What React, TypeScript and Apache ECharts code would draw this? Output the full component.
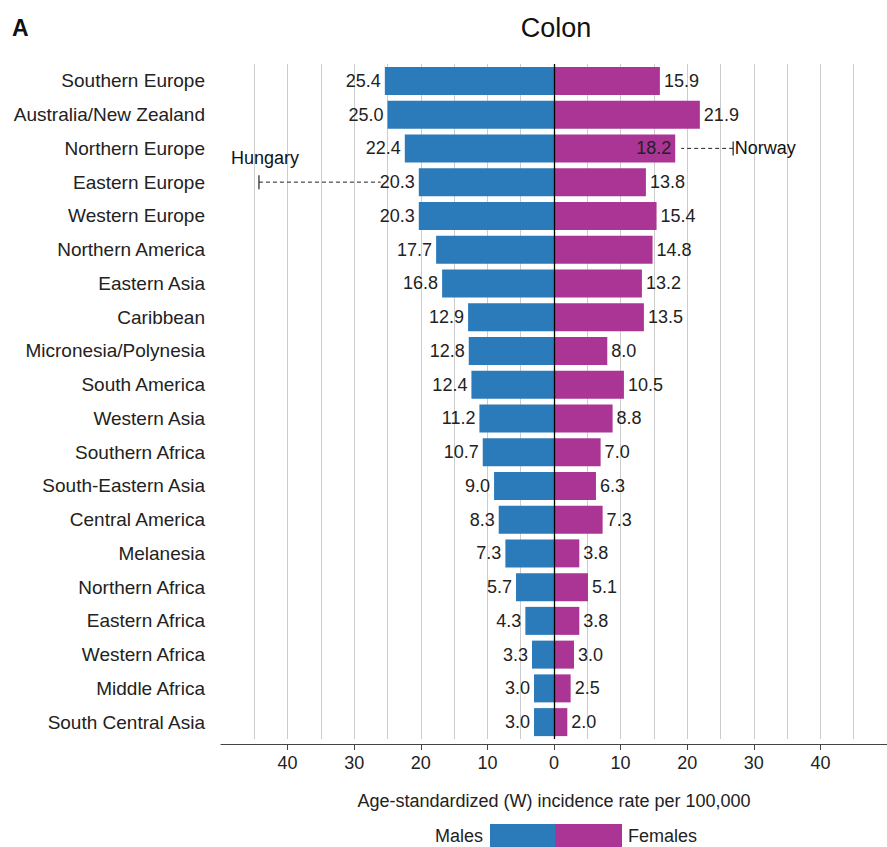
import React, { useEffect, useRef } from "react";
import * as echarts from "echarts";

const categories = [
  "Southern Europe", "Australia/New Zealand", "Northern Europe", "Eastern Europe",
  "Western Europe", "Northern America", "Eastern Asia", "Caribbean",
  "Micronesia/Polynesia", "South America", "Western Asia", "Southern Africa",
  "South-Eastern Asia", "Central America", "Melanesia", "Northern Africa",
  "Eastern Africa", "Western Africa", "Middle Africa", "South Central Asia",
];
const males = [25.4, 25.0, 22.4, 20.3, 20.3, 17.7, 16.8, 12.9, 12.8, 12.4, 11.2, 10.7, 9.0, 8.3, 7.3, 5.7, 4.3, 3.3, 3.0, 3.0];
const females = [15.9, 21.9, 18.2, 13.8, 15.4, 14.8, 13.2, 13.5, 8.0, 10.5, 8.8, 7.0, 6.3, 7.3, 3.8, 5.1, 3.8, 3.0, 2.5, 2.0];
const tickValues = [-40, -30, -20, -10, 0, 10, 20, 30, 40];
const gridValues = [-45, -40, -35, -30, -25, -20, -15, -10, -5, 5, 10, 15, 20, 25, 30, 35, 40, 45];

// Highest-country annotations
const maxCountries = ["Hungary", "Norway"];
const maxRegions = ["Eastern Europe", "Northern Europe"];
const maxValues = [-44.3, 26.9];
const maxLineStart = [-26.0, 19.1];

const BLUE = "#2B7BBA";
const PINK = "#AA3595";
const FONT = "'Liberation Sans', Arial, Helvetica, sans-serif";

export default function App() {
  const ref = useRef<HTMLDivElement>(null);
  useEffect(() => {
    if (!ref.current) return;
    const chart = echarts.init(ref.current, null, { renderer: "svg" });
    const fmt = (v: number) => Math.abs(v).toFixed(1);
    const option: any = {
      animation: false,
      textStyle: { fontFamily: FONT },
      grid: { left: 221, width: 670, top: 64, bottom: 108, containLabel: false },
      xAxis: {
        type: "value",
        min: -50,
        max: 50,
        interval: 10,
        offset: 5,
        name: "Age-standardized (W) incidence rate per 100,000",
        nameLocation: "middle",
        nameGap: 48,
        nameTextStyle: { fontSize: 18, color: "#222", fontFamily: FONT },
        axisLine: { show: true, lineStyle: { color: "#444", width: 1.2 } },
        axisTick: { show: true, length: 6, lineStyle: { color: "#444" }, customValues: tickValues },
        axisLabel: {
          fontSize: 18, color: "#222", margin: 10, fontFamily: FONT,
          customValues: tickValues,
          formatter: (v: number) => (Math.abs(v) >= 50 ? "" : String(Math.abs(v))),
        },
        splitLine: { show: false },
      },
      yAxis: {
        type: "category",
        data: categories,
        inverse: true,
        axisLine: { show: false },
        axisTick: { show: false },
        axisLabel: { fontSize: 19, color: "#222", margin: 16, fontFamily: FONT },
      },
      series: [
        {
          name: "Males",
          type: "bar",
          barWidth: 28,
          barGap: "-100%",
          data: males.map((v) => -v),
          itemStyle: { color: BLUE },
          label: {
            show: true, position: "left", distance: 4, fontSize: 18, color: "#222", fontFamily: FONT,
            formatter: (p: any) => fmt(p.value),
          },
          markLine: {
            silent: true,
            symbol: ["none", "none"],
            label: { show: false },
            z: 1,
            data: [
              ...gridValues.map((v) => ({ xAxis: v, lineStyle: { color: "#cccccc", width: 1, type: "solid" } })),
            ],
          },
          z: 3,
        },
        {
          name: "Females",
          type: "bar",
          barWidth: 28,
          data: females.map((v, i) =>
            categories[i] === "Northern Europe"
              ? { value: v, label: { position: "insideRight", distance: 4 } }
              : v
          ),
          itemStyle: { color: PINK },
          label: {
            show: true, position: "right", distance: 4, fontSize: 18, color: "#222", fontFamily: FONT,
            formatter: (p: any) => fmt(p.value),
          },
          markLine: {
            silent: true,
            symbol: ["none", "none"],
            label: { show: false },
            z: 5,
            data: [{ xAxis: 0, lineStyle: { color: "#000", width: 1.3, type: "solid" } }],
          },
          z: 3,
        },
        ...maxCountries.map((c, i) => ({
          type: "line",
          data: [[maxValues[i], maxRegions[i]], [maxLineStart[i], maxRegions[i]]],
          symbol: "none",
          lineStyle: { color: "#222", width: 1, type: [4, 3] },
          z: 4,
        })),
        {
          type: "scatter",
          symbol: "rect",
          symbolSize: [1.2, 14],
          itemStyle: { color: "#222", opacity: 1 },
          data: maxCountries.map((c, i) => ({
            value: [maxValues[i], maxRegions[i]],
            name: c,
            label: i === 0
              ? { show: true, position: "top", offset: [6, -3], formatter: c, fontSize: 18, color: "#111", fontFamily: FONT }
              : { show: true, position: "right", distance: 1, formatter: c, fontSize: 18, color: "#111", fontFamily: FONT },
          })),
          z: 4,
        },
      ],
      graphic: [
        { type: "text", left: 12, top: 16, style: { text: "A", font: `bold 23px ${FONT}`, fill: "#111" } },
        { type: "text", x: 556, y: 28, style: { text: "Colon", font: `27px ${FONT}`, fill: "#111", align: "center", verticalAlign: "middle" } },
        { type: "text", x: 483, y: 836, style: { text: "Males", font: `18px ${FONT}`, fill: "#222", align: "right", verticalAlign: "middle" } },
        { type: "rect", shape: { x: 490, y: 824, width: 65, height: 24 }, style: { fill: BLUE } },
        { type: "rect", shape: { x: 555, y: 824, width: 67, height: 24 }, style: { fill: PINK } },
        { type: "text", x: 628, y: 836, style: { text: "Females", font: `18px ${FONT}`, fill: "#222", align: "left", verticalAlign: "middle" } },
      ],
    };
    chart.setOption(option);
    return () => chart.dispose();
  }, []);
  return <div ref={ref} style={{ position: "absolute", left: 0, top: 0, width: 887, height: 847 }} />;
}
